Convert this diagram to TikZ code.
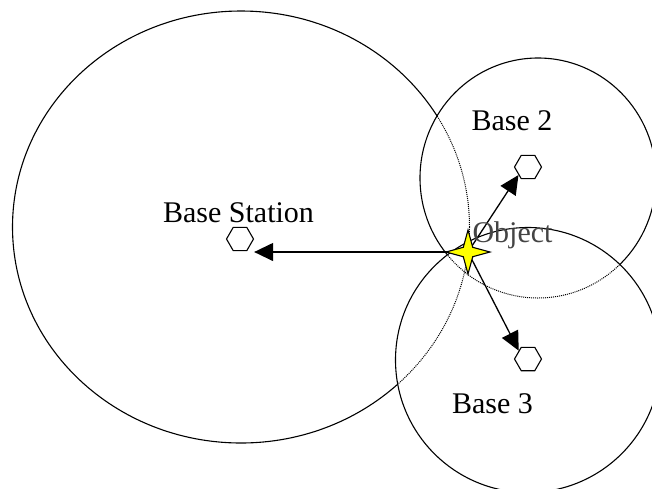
\documentclass[tikz,border=0pt]{standalone}
\usepackage{fontspec}
\setmainfont{Liberation Serif}
\usetikzlibrary{arrows.meta,shapes.geometric}
\definecolor{starYellow}{HTML}{FFFF00}
\definecolor{hiddenGray}{HTML}{444444}
\newcommand{\cellBS}{(241,227) ellipse [x radius=228.5pt, y radius=216pt]}
\newcommand{\cellTwo}{(538,178) ellipse [x radius=118pt, y radius=120pt]}
\newcommand{\cellThree}{(528,360) ellipse [x radius=132.5pt, y radius=132.5pt]}
\tikzset{
  ring/.style={draw=black, line width=1.1pt},
  hidden/.style={draw=black, line width=1pt, dash pattern=on 1pt off 1pt},
  station/.style={draw, regular polygon, regular polygon sides=6, minimum size=27pt,
                  inner sep=0pt, fill=white, line width=1.1pt},
  target/.style={star, star points=4, star point ratio=3.3, minimum size=44pt,
                 inner sep=0pt, draw, fill=starYellow, line width=1.1pt},
  ray/.style={-{Triangle[length=19pt, width=18pt]}, line width=1.3pt},
  lbl/.style={anchor=base, inner sep=0pt, font=\fontsize{30}{36}\selectfont},
}
\begin{document}
\begin{tikzpicture}[x=1pt, y=-1pt]
  \clip (0,0) rectangle (652,488);
  \fill[white] (0,0) rectangle (652,488);
  \draw[ring] \cellBS;
  \fill[white] \cellTwo;
  \begin{scope}
    \clip \cellTwo;
    \draw[hidden] \cellBS;
  \end{scope}
  \draw[ring] \cellTwo;
  \fill[white] \cellThree;
  \begin{scope}
    \clip \cellThree;
    \draw[hidden] \cellBS;
    \draw[hidden] \cellTwo;
  \end{scope}
  \draw[ring] \cellThree;
  \node[station] (bs) at (240,239) {};
  \node[station] (b2) at (528,167) {};
  \node[station] (b3) at (528,359) {};
  \coordinate (obj) at (468,252);
  \draw[ray] (obj) -- (obj -| bs.east);
  \draw[ray] (obj) -- (b2.220);
  \draw[ray] (obj) -- (b3.138);
  \node[target] (objstar) at (obj) {};
  \node[lbl] (bslbl) at (238.5,222) {Base Station};
  \node[lbl] (b2lbl) at (512,130) {Base 2};
  \node[lbl] (b3lbl) at (492.5,413) {Base 3};
  \node[lbl, text=hiddenGray] (objlbl) at (512.5,242) {Object};
\end{tikzpicture}
\end{document}
